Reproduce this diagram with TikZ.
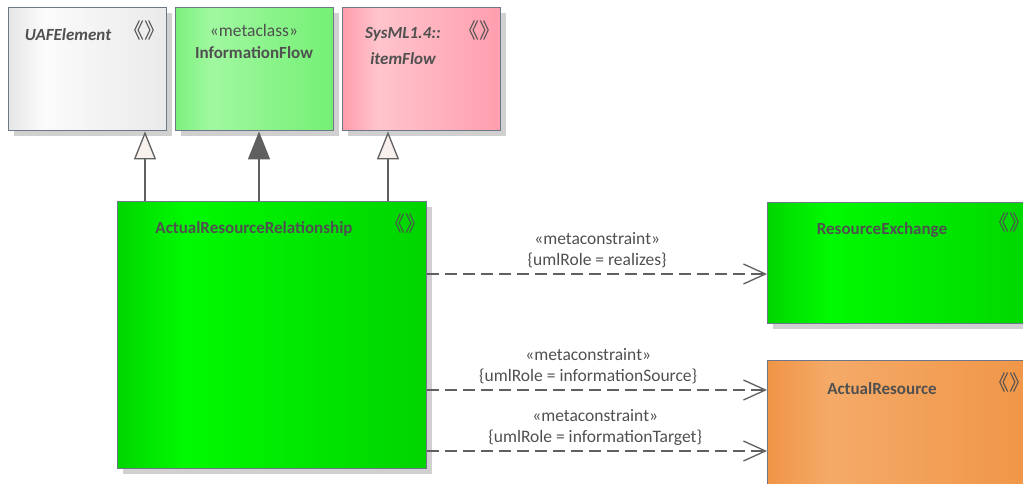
\documentclass[tikz,border=0pt]{standalone}
\usepackage{fontspec}
\setmainfont{Carlito}
\newfontfamily\cjkfont{Noto Sans CJK SC}
\usepackage{xcolor}
\usetikzlibrary{arrows.meta,shadows}

\definecolor{boxline}{HTML}{6E7789}
\definecolor{txtgray}{HTML}{505050}
\definecolor{lnkgray}{HTML}{5F5F5F}
\definecolor{shadowgray}{HTML}{D0D0D0}
\definecolor{trifill}{HTML}{F8F0EC}

\definecolor{grayL}{HTML}{E6E6E6}\definecolor{grayM}{HTML}{FBFBFB}\definecolor{grayR}{HTML}{EAEAEA}
\definecolor{lgrnL}{HTML}{7CF07C}\definecolor{lgrnM}{HTML}{A0F8A0}\definecolor{lgrnR}{HTML}{74F074}
\definecolor{pinkL}{HTML}{FF9CAC}\definecolor{pinkM}{HTML}{FFC4CC}\definecolor{pinkR}{HTML}{FF9EAE}
\definecolor{grnL}{HTML}{00D600}\definecolor{grnM}{HTML}{00FA00}\definecolor{grnR}{HTML}{00D400}
\definecolor{orgL}{HTML}{F09446}\definecolor{orgM}{HTML}{F4AA68}\definecolor{orgR}{HTML}{F09444}

\pgfdeclarehorizontalshading{grayshade}{100bp}{color(0bp)=(grayL); color(25bp)=(grayL); color(36bp)=(grayM); color(75bp)=(grayR); color(100bp)=(grayR)}
\pgfdeclarehorizontalshading{lgrnshade}{100bp}{color(0bp)=(lgrnL); color(25bp)=(lgrnL); color(36bp)=(lgrnM); color(75bp)=(lgrnR); color(100bp)=(lgrnR)}
\pgfdeclarehorizontalshading{pinkshade}{100bp}{color(0bp)=(pinkL); color(25bp)=(pinkL); color(36bp)=(pinkM); color(75bp)=(pinkR); color(100bp)=(pinkR)}
\pgfdeclarehorizontalshading{grnshade}{100bp}{color(0bp)=(grnL); color(25bp)=(grnL); color(36bp)=(grnM); color(75bp)=(grnR); color(100bp)=(grnR)}
\pgfdeclarehorizontalshading{orgshade}{100bp}{color(0bp)=(orgL); color(25bp)=(orgL); color(36bp)=(orgM); color(75bp)=(orgR); color(100bp)=(orgR)}

\begin{document}
\begin{tikzpicture}[x=1pt,y=-1pt,
  every node/.style={font=\fontsize{17.5}{21}\selectfont, text=txtgray},
  umlbox/.style={draw=boxline, line width=1.4pt, anchor=north west, inner sep=0pt,
    drop shadow={shadow xshift=5pt, shadow yshift=-5pt, fill=shadowgray, opacity=1}},
  title/.style={font=\fontsize{17}{21}\selectfont\bfseries},
  stereo/.style={font=\cjkfont\fontsize{21}{21}\selectfont, inner sep=0pt},
  gen/.style={draw=lnkgray, line width=1.3pt},
  dep/.style={draw=lnkgray, line width=1.3pt, dash pattern=on 12pt off 6pt, -{Straight Barb[length=22pt,width=20pt]}},
  lbl/.style={align=center, font=\fontsize{17.5}{21}\selectfont}]

\useasboundingbox (0,0) rectangle (1023,484);

% classes
\node[umlbox, shading=grayshade, minimum width=158pt, minimum height=123pt] (uaf) at (8,7) {};
\node[umlbox, shading=lgrnshade, minimum width=158pt, minimum height=123pt] (info) at (175,7) {};
\node[umlbox, shading=pinkshade, minimum width=158pt, minimum height=123pt] (item) at (342,7) {};
\node[umlbox, shading=grnshade, minimum width=309pt, minimum height=267pt] (arr) at (117,201) {};
\node[umlbox, shading=grnshade, minimum width=280pt, minimum height=121pt] (rex) at (767,202) {};
\node[umlbox, shading=orgshade, minimum width=280pt, minimum height=140pt] (ares) at (767,360) {};

% names
\node[title, font=\fontsize{17}{21}\selectfont\bfseries\itshape] (uafname) at (68,35) {UAFElement};
\node[stereo] (uafst) at (144,31) {《》};
\node (infost) at (254,30) {«metaclass»};
\node[title] (infoname) at (254,53) {InformationFlow};
\node[title, align=center, font=\fontsize{17}{26}\selectfont\bfseries\itshape] (itemname) at (403,46) {SysML1.4::\\itemFlow};
\node[stereo] (itemst) at (479,31) {《》};
\node[title] (arrname) at (254,229) {ActualResourceRelationship};
\node[stereo] (arrst) at (405,224) {《》};
\node[title] (rexname) at (882,230) {ResourceExchange};
\node[stereo] (rexst) at (1009,223) {《》};
\node[title] (aresname) at (882,389) {ActualResource};
\node[stereo] (aresst) at (1009,383) {《》};

% generalizations
\draw[gen, -{Triangle[length=28pt,width=22pt,fill=trifill]}] ([xshift=28pt]arr.north west) -- ([xshift=28pt]arr.north west |- uaf.south);
\draw[gen, -{Triangle[length=28pt,width=22pt,fill=lnkgray]}] ([xshift=142pt]arr.north west) -- ([xshift=142pt]arr.north west |- info.south);
\draw[gen, -{Triangle[length=28pt,width=22pt,fill=trifill]}] ([xshift=271pt]arr.north west) -- ([xshift=271pt]arr.north west |- item.south);

% metaconstraints
\coordinate (s1) at ([yshift=-73pt]arr.north east);
\coordinate (s2) at ([yshift=-189pt]arr.north east);
\coordinate (s3) at ([yshift=-250pt]arr.north east);
\draw[dep] (s1) -- node[lbl, above=2pt] {«metaconstraint»\\\{umlRole = realizes\}} (s1 -| rex.west);
\draw[dep] (s2) -- node[lbl, above=2pt, xshift=-9pt] {«metaconstraint»\\\{umlRole = informationSource\}} (s2 -| ares.west);
\draw[dep] (s3) -- node[lbl, above=2pt, xshift=-2pt] {«metaconstraint»\\\{umlRole = informationTarget\}} (s3 -| ares.west);
\end{tikzpicture}
\end{document}
